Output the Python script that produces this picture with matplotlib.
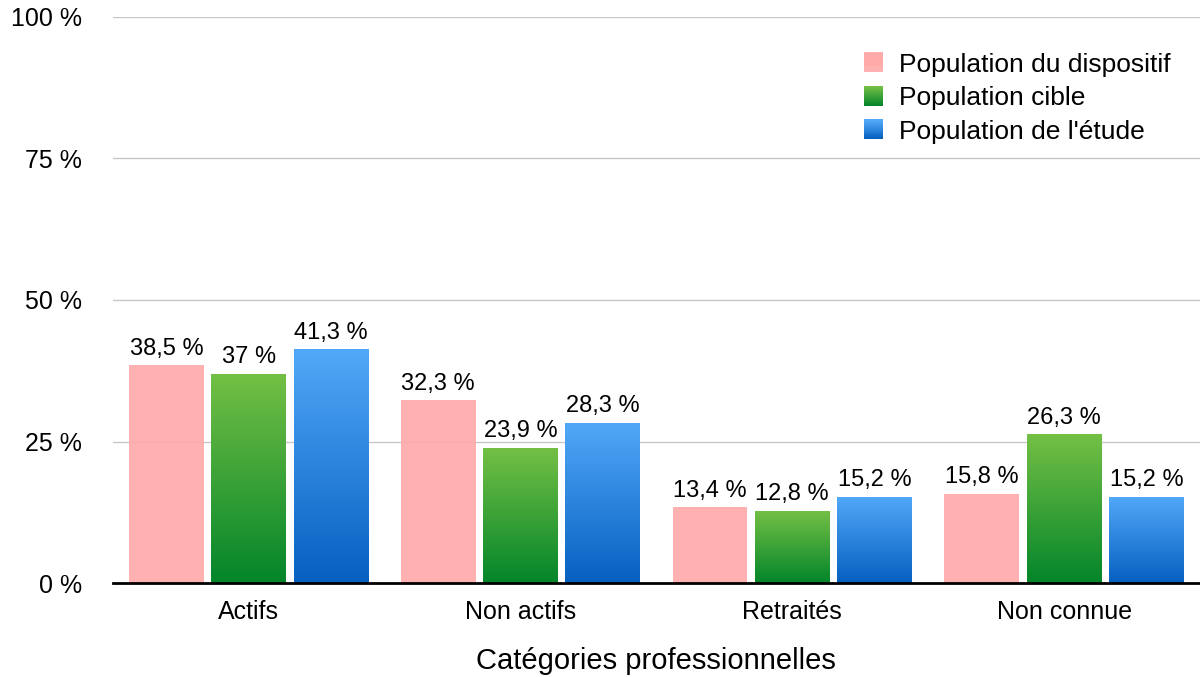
import numpy as np
import matplotlib
matplotlib.use("Agg")
import matplotlib.pyplot as plt
from matplotlib.colors import LinearSegmentedColormap
from matplotlib.legend_handler import HandlerBase
from matplotlib.patches import Rectangle

plt.rcParams["font.family"] = ["Liberation Sans", "DejaVu Sans"]

categories = ["Actifs", "Non actifs", "Retraités", "Non connue"]
series_names = ["Population du dispositif", "Population cible", "Population de l'étude"]
dispositif = [38.5, 32.3, 13.4, 15.8]
cible = [37.0, 23.9, 12.8, 26.3]
etude = [41.3, 28.3, 15.2, 15.2]
yticks = [0, 25, 50, 75, 100]

# (top colour, bottom colour) per series
gradients = [("#ffa9a9", "#ffa9a9"), ("#74c045", "#03852a"), ("#52a8f8", "#0560c0")]


def fmt(v):
    s = f"{v:.1f}".rstrip("0").rstrip(".")
    return s.replace(".", ",") + " %"


class GradientHandler(HandlerBase):
    def __init__(self, top, bottom, alpha=1.0, n=20):
        super().__init__()
        self.top, self.bottom, self.alpha, self.n = top, bottom, alpha, n

    def create_artists(self, legend, orig_handle, xdescent, ydescent, width, height, fontsize, trans):
        cmap = LinearSegmentedColormap.from_list("g", [self.bottom, self.top])
        size = width
        x0 = -xdescent
        y0 = -ydescent + (height - size) / 2
        arts = []
        for i in range(self.n):
            r = Rectangle((x0, y0 + size * i / self.n), size, size / self.n + 0.3,
                          facecolor=cmap(i / (self.n - 1)), edgecolor="none",
                          alpha=self.alpha, transform=trans)
            arts.append(r)
        return arts


fig = plt.figure(figsize=(12, 6.77), dpi=100)
ax = fig.add_axes([0.094, 0.1388, 0.906, 0.8362])

x = np.arange(len(categories))
width = 0.275
offset = 0.303
data = [dispositif, cible, etude]

handles = []
for k, (vals, (top, bottom)) in enumerate(zip(data, gradients)):
    alpha = 0.9 if k == 0 else 1.0
    bars = ax.bar(x + (k - 1) * offset, vals, width, color=top, alpha=alpha,
                  edgecolor="none", zorder=3)
    handles.append(bars)
    if top != bottom:
        cmap = LinearSegmentedColormap.from_list("g", [bottom, top])
        for b in bars:
            bx, bw, bh = b.get_x(), b.get_width(), b.get_height()
            grad = np.linspace(0, 1, 256).reshape(-1, 1)
            im = ax.imshow(grad, cmap=cmap, aspect="auto", origin="lower",
                           extent=[bx, bx + bw, 0, bh], zorder=3)
            im.set_clip_path(b)
    for b, v in zip(bars, vals):
        ax.annotate(fmt(v), (b.get_x() + b.get_width() / 2, b.get_height()),
                    xytext=(0, 4), textcoords="offset points",
                    ha="center", va="bottom", fontsize=17, zorder=4)

ax.set_xlim(-0.5, len(categories) - 0.5)
ax.set_ylim(0, 100)
ax.set_yticks(yticks)
ax.set_yticklabels([f"{t} %" for t in yticks], fontsize=18)
ax.set_xticks(x)
ax.set_xticklabels(categories, fontsize=18)
ax.tick_params(axis="y", length=0, pad=22)
ax.tick_params(axis="x", length=0, pad=12)
ax.set_xlabel("Catégories professionnelles", fontsize=21, labelpad=17)

ax.grid(axis="y", color="#c8c8c8", linewidth=1, zorder=0)
for sp in ["top", "right", "left"]:
    ax.spines[sp].set_visible(False)
ax.spines["bottom"].set_linewidth(2)
ax.spines["bottom"].set_color("black")
ax.spines["bottom"].set_zorder(5)

handler_map = {
    handles[0]: GradientHandler(*gradients[0], alpha=0.9),
    handles[1]: GradientHandler(*gradients[1]),
    handles[2]: GradientHandler(*gradients[2]),
}
leg = ax.legend(handles, series_names, loc="upper right", bbox_to_anchor=(0.978, 0.946),
                frameon=False, fontsize=19, handler_map=handler_map,
                handlelength=0.75, handletextpad=0.6, labelspacing=0.36,
                borderpad=0.2, borderaxespad=0)

fig.savefig("out.png", dpi=100)
